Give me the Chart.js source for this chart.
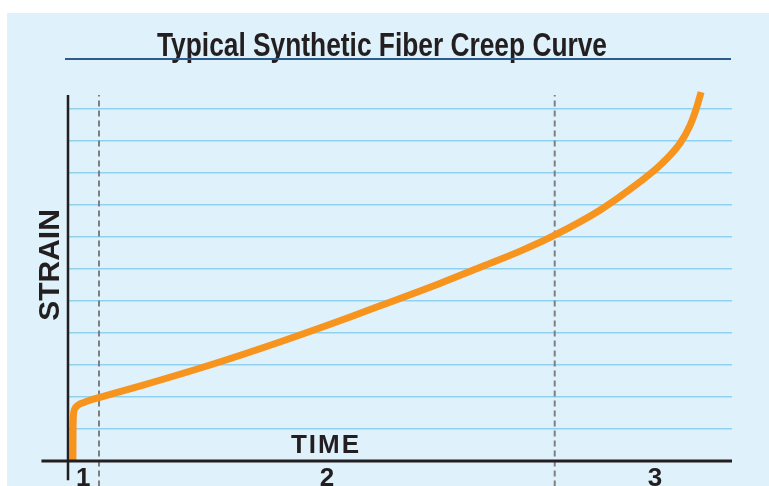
<!DOCTYPE html>
<html>
<head>
<meta charset="utf-8">
<script src="https://cdn.jsdelivr.net/npm/chart.js@4.4.1/dist/chart.umd.min.js"></script>
<style>
    body { margin: 0; background: #ffffff; width: 769px; height: 486px; overflow: hidden; }
    #panel { position: absolute; left: 7px; top: 13px; width: 762px; height: 473px; background: #dff1fb; overflow: hidden; }
</style>
</head>
<body>
<div id="panel"><canvas id="creepChart" width="762" height="473"></canvas></div>
<script>
// Creep curve (time in % of the plot width, strain in grid units)
var timeValues   = [0.74, 0.76, 0.8, 0.87, 1.08, 1.43, 1.88, 2.41, 3.31, 4.67, 10.8, 21.4, 31.9, 42.5, 47.0, 56.0, 62.0, 68.1, 73.3, 80.1, 86.1, 89.2, 92.2, 93.7, 94.6, 95.35];
var strainValues = [0, 0.9, 1.34, 1.53, 1.65, 1.73, 1.79, 1.83, 1.9, 1.98, 2.34, 3.0, 3.72, 4.5, 4.85, 5.55, 6.05, 6.56, 7.06, 7.84, 8.72, 9.25, 9.94, 10.5, 11.0, 11.53];

// Phase boundaries (dashed lines) and phase labels under the axis
var phaseBounds = [4.67, 73.3];
var phaseNames  = ['1', '2', '3'];
var phaseMid    = [2.3, 39.0, 88.4];

// Horizontal grid lines
var strainGrid = [1, 2, 3, 4, 5, 6, 7, 8, 9, 10, 11];

var ink = '#231f20';

var curve = timeValues.map(function(t, i) { return { x: t, y: strainValues[i] }; });

var dashSets = phaseBounds.map(function(b) {
    return {
        data: [{ x: b, y: -0.8 }, { x: b, y: 11.44 }],
        borderColor: '#7f7f80',
        borderWidth: 2,
        borderDash: [6, 4],
        pointRadius: 0,
        clip: false
    };
});

var decorations = {
    id: 'decorations',
    afterDatasetsDraw: function(chart) {
        var ctx = chart.ctx;
        var x = chart.scales.x, y = chart.scales.y;
        var x0 = x.getPixelForValue(0), y0 = y.getPixelForValue(0);

        ctx.save();
        // axes
        ctx.strokeStyle = ink;
        ctx.lineWidth = 3;
        ctx.beginPath();
        ctx.moveTo(x.getPixelForValue(-4), y0);
        ctx.lineTo(x.getPixelForValue(100), y0);
        ctx.stroke();
        ctx.lineWidth = 2.5;
        ctx.beginPath();
        ctx.moveTo(x0, y.getPixelForValue(11.44));
        ctx.lineTo(x0, y.getPixelForValue(-0.6));
        ctx.stroke();

        // title (condensed to the width of the original) and rule
        ctx.fillStyle = ink;
        ctx.textAlign = 'center';
        ctx.textBaseline = 'alphabetic';
        ctx.font = 'bold 34px "Liberation Sans", Arial, sans-serif';
        var title = 'Typical Synthetic Fiber Creep Curve';
        var squeeze = 450 / ctx.measureText(title).width;
        ctx.save();
        ctx.translate(375, 43);
        ctx.scale(squeeze, 1);
        ctx.fillText(title, 0, 0);
        ctx.restore();
        ctx.strokeStyle = '#2c5d8a';
        ctx.lineWidth = 2;
        ctx.beginPath();
        ctx.moveTo(58, 46);
        ctx.lineTo(724, 46);
        ctx.stroke();

        // axis names
        ctx.font = 'bold 26px "Liberation Sans", Arial, sans-serif';
        ctx.letterSpacing = '2px';
        ctx.fillText('TIME', 319, 440);
        ctx.letterSpacing = '0px';
        ctx.save();
        ctx.translate(44, 252);
        ctx.rotate(-Math.PI / 2);
        ctx.textBaseline = 'middle';
        ctx.font = 'bold 30px "Liberation Sans", Arial, sans-serif';
        ctx.fillText('STRAIN', 0, 0);
        ctx.restore();

        // phase numbers
        ctx.font = 'bold 26px "Liberation Sans", Arial, sans-serif';
        phaseNames.forEach(function(n, i) {
            ctx.fillText(n, x.getPixelForValue(phaseMid[i]), 473);
        });
        ctx.restore();
    }
};

new Chart(document.getElementById('creepChart'), {
    type: 'line',
    data: {
        datasets: [{
            data: curve,
            borderColor: '#f7941d',
            borderWidth: 7,
            borderCapStyle: 'butt',
            cubicInterpolationMode: 'monotone',
            pointRadius: 0,
            clip: false
        }].concat(dashSets)
    },
    options: {
        responsive: false,
        animation: false,
        devicePixelRatio: 1,
        layout: { padding: { left: 61, right: 37, top: 82, bottom: 25 } },
        plugins: { legend: { display: false }, tooltip: { enabled: false } },
        scales: {
            x: { type: 'linear', min: 0, max: 100, display: false },
            y: {
                type: 'linear',
                min: 0,
                max: 11.44,
                afterBuildTicks: function(s) { s.ticks = strainGrid.map(function(v) { return { value: v }; }); },
                ticks: { display: false },
                grid: { color: '#8fd1ee', lineWidth: 1.5, drawTicks: false },
                border: { display: false }
            }
        }
    },
    plugins: [decorations]
});
</script>
</body>
</html>
